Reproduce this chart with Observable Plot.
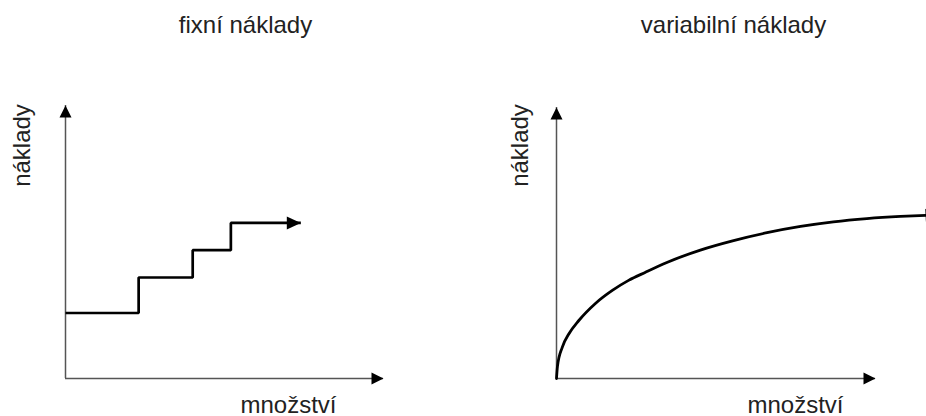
<!DOCTYPE html>
<html><head><meta charset="utf-8">
<script src="https://cdn.jsdelivr.net/npm/d3@7"></script>
<script src="https://cdn.jsdelivr.net/npm/@observablehq/plot@0.6"></script>
<style>
html,body{margin:0;padding:0;background:#fff;overflow:hidden}
#chart{display:flex;width:926px;height:416px;background:#fff}
#chart svg{display:block;flex:none}
</style></head><body><div id="chart"></div><script>
// ---- data ----
const panelTitles = ["fixní náklady", "variabilní náklady"];
const costLabel = "náklady";
const quantityLabel = "množství";
const axisMax = 10;
// fixed costs (step function), quantity vs cost
const fixedQty  = [0, 2.3, 4.0, 5.2, 7.4];
const fixedCost = [2.4, 3.7, 4.7, 5.7, 5.7];
// variable costs (concave curve)
const variableQty  = [0, 0.03, 0.18, 0.39, 0.70, 1.22, 1.75, 2.26, 2.79, 3.46, 4.51, 5.55, 6.60, 7.65, 8.68, 9.73, 10.78, 11.57];
const variableCost = [0, 0.45, 1.15, 1.65, 2.14, 2.77, 3.25, 3.62, 3.92, 4.28, 4.74, 5.09, 5.38, 5.61, 5.78, 5.90, 5.98, 6.02];

const fixedData = fixedQty.map((q, i) => ({q, c: fixedCost[i]}));
const variableData = variableQty.map((q, i) => ({q, c: variableCost[i]}));
const axisEnds = [{q: axisMax, c: 0, dir: 90}, {q: 0, c: axisMax, dir: 0}];

const font = "'Liberation Sans', Arial, Helvetica, sans-serif";
const textColor = "#222";

function panel(o) {
  return Plot.plot({
    width: 463, height: 416,
    marginLeft: o.marginLeft, marginRight: o.marginRight, marginTop: o.marginTop, marginBottom: 38,
    x: {domain: [0, axisMax], axis: null},
    y: {domain: [0, axisMax], axis: null},
    style: {fontFamily: font, background: "white", overflow: "visible"},
    marks: [
      Plot.ruleY([0], {x1: 0, x2: axisMax, stroke: "#555", strokeWidth: 1.5}),
      Plot.ruleX([0], {y1: 0, y2: axisMax, stroke: "#555", strokeWidth: 1.5}),
      Plot.vector(axisEnds, {x: "q", y: "c", rotate: "dir", anchor: "end", length: 12, r: 6, shape: "spike", fill: "black", stroke: "none"}),
      ...o.marks,
      Plot.text([o.title], {frameAnchor: "top", dx: o.titleDx, dy: o.titleDy, lineAnchor: "bottom", fontSize: 24, fill: textColor}),
      Plot.text([costLabel], {frameAnchor: "top-left", dx: o.yLabelDx, dy: o.yLabelDy, rotate: -90, textAnchor: "middle", lineAnchor: "middle", fontSize: 24, fill: textColor}),
      Plot.text([quantityLabel], {frameAnchor: "bottom", dx: o.xLabelDx, dy: 34, lineAnchor: "bottom", fontSize: 24, fill: textColor})
    ]
  });
}

const left = panel({
  marginLeft: 65, marginRight: 80, marginTop: 105,
  title: panelTitles[0], titleDx: 21, titleDy: -73,
  yLabelDx: -43.5, yLabelDy: 40, xLabelDx: 64,
  marks: [
    Plot.line(fixedData, {x: "q", y: "c", curve: "step-after", stroke: "black", strokeWidth: 2.7, strokeLinejoin: "miter", strokeLinecap: "butt"}),
    Plot.vector(fixedData.slice(-1), {x: "q", y: "c", rotate: 90, anchor: "end", length: 14, r: 6.5, shape: "spike", fill: "black", stroke: "none"})
  ]
});

const right = panel({
  marginLeft: 93, marginRight: 51, marginTop: 107,
  title: panelTitles[1], titleDx: 17.5, titleDy: -75,
  yLabelDx: -36.5, yLabelDy: 38, xLabelDx: 79.5,
  marks: [
    Plot.line(variableData, {x: "q", y: "c", curve: "monotone-x", stroke: "black", strokeWidth: 2.8}),
    Plot.vector(variableData.slice(-1), {x: "q", y: "c", rotate: 87, anchor: "start", length: 13, r: 6.5, shape: "spike", fill: "black", stroke: "none"})
  ]
});

const chart = document.getElementById("chart");
chart.append(left, right);
</script></body></html>
